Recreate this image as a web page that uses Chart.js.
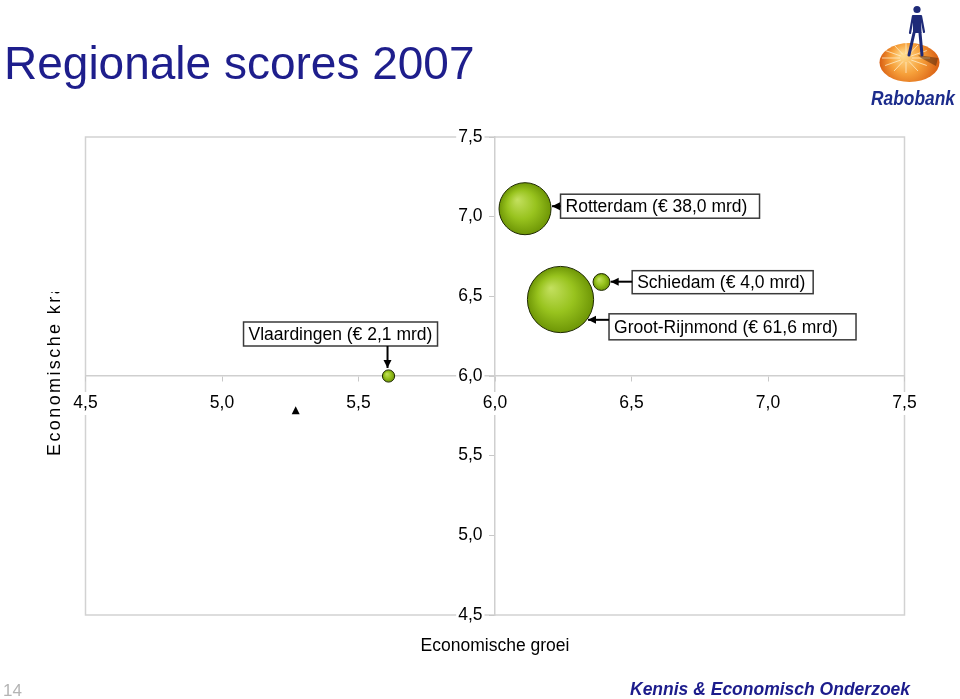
<!DOCTYPE html>
<html>
<head>
<meta charset="utf-8">
<title>Regionale scores 2007</title>
<script src="https://cdn.jsdelivr.net/npm/chart.js@4"></script>
<style>
  html, body { margin: 0; padding: 0; background: #fff; }
  #wrap { position: relative; width: 960px; height: 699px; }
</style>
</head>
<body>
<div id="wrap"><canvas id="chart" width="960" height="699"></canvas></div>
<script>
'use strict';

// data
const regions = ['Rotterdam', 'Schiedam', 'Groot-Rijnmond', 'Vlaardingen'];
const groei = [6.11, 6.39, 6.24, 5.61];      // x: economische groei
const kracht = [7.05, 6.59, 6.48, 6.00];     // y: economische kracht
const omvang = [38.0, 4.0, 61.6, 2.1];       // bubble size, € mrd
const tickLabels = ['4,5', '5,0', '5,5', '6,0', '6,5', '7,0', '7,5'];

const sizeFactor = 4.22; // px radius per sqrt(mrd)
const fontFamily = "'Liberation Sans', Arial, sans-serif";
Chart.defaults.font.family = fontFamily;

function fmt(v) {
  return v.toFixed(1).replace('.', ',');
}

// callout boxes, offsets relative to bubble centre (px)
const callouts = [
  { box: [35.5, -14.5, 199, 24], arrow: [35.5, -2.5, 27, -2.5] },
  { box: [30.7, -11.3, 181, 23], arrow: [30.7, -0.3, 9.2, -0.3] },
  { box: [48.5, 14.3, 247, 26], arrow: [48.5, 20.3, 27.5, 20.3] },
  { box: [-145, -54, 194, 24], arrow: [-1, -30, -1, -8] }
];

function arrowHead(ctx, x1, y1, x2, y2) {
  const a = Math.atan2(y2 - y1, x2 - x1);
  const len = 8, hw = 4;
  ctx.beginPath();
  ctx.moveTo(x2, y2);
  ctx.lineTo(x2 - len * Math.cos(a) + hw * Math.sin(a), y2 - len * Math.sin(a) - hw * Math.cos(a));
  ctx.lineTo(x2 - len * Math.cos(a) - hw * Math.sin(a), y2 - len * Math.sin(a) + hw * Math.cos(a));
  ctx.closePath();
  ctx.fill();
}

function drawLogo(ctx) {
  ctx.save();
  // orange globe
  const g = ctx.createRadialGradient(903, 55, 2, 910, 63, 32);
  g.addColorStop(0, '#ffd98a');
  g.addColorStop(0.45, '#f6a03a');
  g.addColorStop(1, '#d4540c');
  ctx.fillStyle = g;
  ctx.beginPath();
  ctx.ellipse(909.5, 62.5, 30, 19.5, 0, 0, Math.PI * 2);
  ctx.fill();
  ctx.strokeStyle = 'rgba(255,235,200,0.8)';
  ctx.lineWidth = 1;
  for (let i = 0; i < 12; i++) {
    const a = i * Math.PI / 6;
    ctx.beginPath();
    ctx.moveTo(906 + 6 * Math.cos(a), 58 + 4 * Math.sin(a));
    ctx.lineTo(906 + 24 * Math.cos(a), 58 + 15 * Math.sin(a));
    ctx.stroke();
  }
  // shadow
  ctx.fillStyle = 'rgba(60,30,10,0.45)';
  ctx.beginPath();
  ctx.moveTo(918, 55);
  ctx.lineTo(938, 58);
  ctx.lineTo(936, 66);
  ctx.lineTo(921, 58);
  ctx.closePath();
  ctx.fill();
  // figure
  ctx.fillStyle = '#1e2a78';
  ctx.strokeStyle = '#1e2a78';
  ctx.lineCap = 'round';
  ctx.beginPath();
  ctx.arc(917, 9.5, 3.6, 0, Math.PI * 2);
  ctx.fill();
  ctx.beginPath();
  ctx.moveTo(913, 15); ctx.lineTo(921, 15); ctx.lineTo(921.5, 33); ctx.lineTo(913, 33);
  ctx.closePath();
  ctx.fill();
  ctx.lineWidth = 3;
  ctx.beginPath(); ctx.moveTo(914, 33); ctx.lineTo(909, 55); ctx.stroke();
  ctx.beginPath(); ctx.moveTo(920, 33); ctx.lineTo(922, 55); ctx.stroke();
  ctx.lineWidth = 2.2;
  ctx.beginPath(); ctx.moveTo(913, 16); ctx.lineTo(910, 33); ctx.stroke();
  ctx.beginPath(); ctx.moveTo(921, 16); ctx.lineTo(924, 32); ctx.stroke();
  // name
  ctx.fillStyle = '#1c2c8c';
  ctx.font = 'italic bold 21px ' + fontFamily;
  ctx.textBaseline = 'alphabetic';
  ctx.fillText('Rabobank', 871, 105, 84);
  ctx.restore();
}

const decorPlugin = {
  id: 'decor',
  beforeDraw(chart) {
    const { ctx, chartArea: a } = chart;
    // centred y axis puts its labels flush on the line; move them left a bit
    // (backdrop is relative to the label, so it follows)
    const items = chart.scales.y.getLabelItems(a);
    if (!items._moved) {
      for (const it of items) {
        it.options.translation[0] -= 12.5;
      }
      items._moved = true;
    }
    ctx.save();
    ctx.strokeStyle = '#d2d2d2';
    ctx.lineWidth = 1.5;
    ctx.strokeRect(a.left, a.top, a.right - a.left, a.bottom - a.top);
    ctx.restore();
  },
  afterDraw(chart) {
    const ctx = chart.ctx;
    const xs = chart.scales.x, ys = chart.scales.y;
    ctx.save();

    // title
    ctx.fillStyle = '#1e1e8c';
    ctx.font = '46px ' + fontFamily;
    ctx.textAlign = 'left';
    ctx.textBaseline = 'alphabetic';
    ctx.fillText('Regionale scores 2007', 4, 79);

    // axis titles
    ctx.fillStyle = '#000';
    ctx.font = '17.5px ' + fontFamily;
    ctx.textAlign = 'center';
    ctx.fillText('Economische groei', 495, 651);

    // y title is cut off on the slide
    ctx.save();
    ctx.beginPath();
    ctx.rect(38, 292, 30, 170);
    ctx.clip();
    ctx.translate(60, 456);
    ctx.rotate(-Math.PI / 2);
    ctx.font = '18px ' + fontFamily;
    ctx.letterSpacing = '2.4px';
    ctx.textAlign = 'left';
    ctx.fillText('Economische kracht', 0, 0);
    ctx.letterSpacing = '0px';
    ctx.restore();

    // callouts
    for (let i = 0; i < regions.length; i++) {
      const cx = xs.getPixelForValue(groei[i]);
      const cy = ys.getPixelForValue(kracht[i]);
      const c = callouts[i];
      const bx = cx + c.box[0], by = cy + c.box[1];
      ctx.fillStyle = '#fff';
      ctx.strokeStyle = '#3a3a3a';
      ctx.lineWidth = 1.5;
      ctx.fillRect(bx, by, c.box[2], c.box[3]);
      ctx.strokeRect(bx, by, c.box[2], c.box[3]);
      ctx.fillStyle = '#000';
      ctx.font = '17.5px ' + fontFamily;
      ctx.textAlign = 'left';
      ctx.textBaseline = 'middle';
      ctx.fillText(regions[i] + ' (\u20ac ' + fmt(omvang[i]) + ' mrd)', bx + 5, by + c.box[3] / 2 + 1);

      const x1 = cx + c.arrow[0], y1 = cy + c.arrow[1];
      const x2 = cx + c.arrow[2], y2 = cy + c.arrow[3];
      ctx.strokeStyle = '#000';
      ctx.lineWidth = 2;
      ctx.beginPath();
      ctx.moveTo(x1, y1);
      ctx.lineTo(x2, y2);
      ctx.stroke();
      arrowHead(ctx, x1, y1, x2, y2);
    }

    // stray arrow head left over on the slide
    const sx = xs.getPixelForValue(5.27), sy = ys.getPixelForValue(5.81);
    arrowHead(ctx, sx, sy + 10, sx, sy);

    // footer
    ctx.textBaseline = 'alphabetic';
    ctx.textAlign = 'left';
    ctx.fillStyle = '#b4b4b4';
    ctx.font = '17px ' + fontFamily;
    ctx.fillText('14', 3, 696);
    ctx.fillStyle = '#1c1c8c';
    ctx.font = 'italic bold 17.5px ' + fontFamily;
    ctx.fillText('Kennis & Economisch Onderzoek', 630, 695);
    ctx.restore();

    drawLogo(ctx);
  }
};

function bubbleFill(c) {
  const chart = c.chart;
  if (c.type !== 'data' || !chart.chartArea || !c.raw) return '#95c01c';
  const x = chart.scales.x.getPixelForValue(c.raw.x);
  const y = chart.scales.y.getPixelForValue(c.raw.y);
  const r = c.raw.r;
  const g = chart.ctx.createRadialGradient(x - r * 0.3, y - r * 0.35, 0, x, y, r);
  g.addColorStop(0, '#c4e060');
  g.addColorStop(0.55, '#98c31e');
  g.addColorStop(1, '#6e9606');
  return g;
}

const bubbleData = [];
for (let i = 0; i < regions.length; i++) {
  bubbleData.push({ x: groei[i], y: kracht[i], r: Math.sqrt(omvang[i]) * sizeFactor });
}

const axisCommon = {
  type: 'linear',
  min: 4.5,
  max: 7.5,
  grid: { drawOnChartArea: false, drawTicks: true, tickLength: 5, color: '#c8c8c8', z: -1 },
  border: { color: '#cfcfcf', width: 1.5, z: 0 },
  ticks: {
    stepSize: 0.5,
    color: '#000',
    font: { size: 17.5, family: fontFamily },
    callback: (v, i) => tickLabels[i],
    showLabelBackdrop: true,
    backdropColor: '#fff',
    backdropPadding: { x: 2, y: 1 },
    z: 1
  }
};

const ctx = document.getElementById('chart').getContext('2d');
new Chart(ctx, {
  type: 'bubble',
  data: {
    datasets: [{
      data: bubbleData,
      backgroundColor: bubbleFill,
      borderColor: '#1f2a02',
      borderWidth: 1,
      hoverRadius: 0
    }]
  },
  options: {
    responsive: false,
    animation: false,
    events: [],
    layout: { padding: { left: 85.5, right: 55.5, top: 137, bottom: 84 } },
    plugins: { legend: { display: false }, tooltip: { enabled: false } },
    scales: {
      x: Object.assign({}, axisCommon, {
        position: { y: 6 },
        ticks: Object.assign({}, axisCommon.ticks, { padding: 12, maxRotation: 0 })
      }),
      y: Object.assign({}, axisCommon, {
        position: { x: 6 },
        ticks: Object.assign({}, axisCommon.ticks, { padding: 7 })
      })
    }
  },
  plugins: [decorPlugin]
});
</script>
</body>
</html>
